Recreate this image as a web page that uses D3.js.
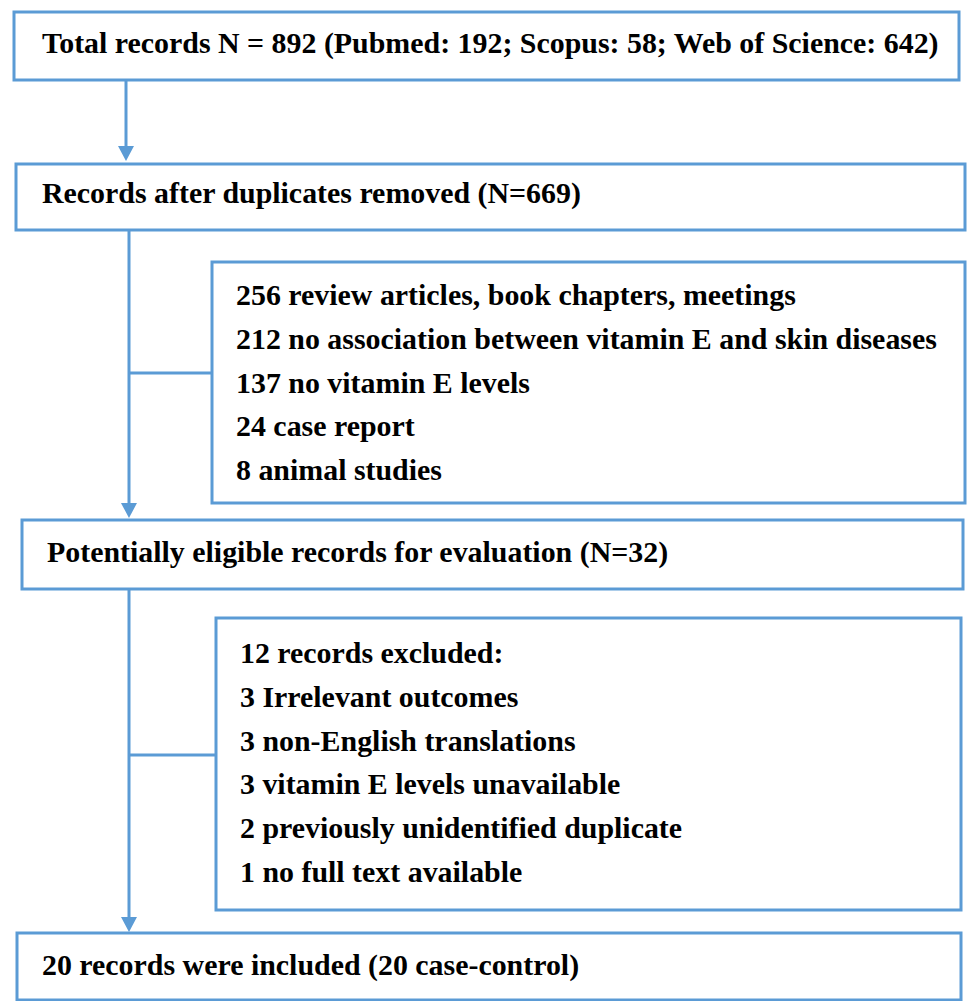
<!DOCTYPE html>
<html>
<head>
<meta charset="utf-8">
<script src="https://cdn.jsdelivr.net/npm/d3@7"></script>
<style>
  html, body { margin: 0; padding: 0; background: #fff; }
  svg { display: block; }
  text { font-family: "Liberation Serif", "Times New Roman", serif; font-weight: bold; fill: #000; }
</style>
</head>
<body>
<div id="chart"></div>
<script>
// flow steps (main column)
const mainSteps = [
  "Total records N = 892 (Pubmed: 192; Scopus: 58; Web of Science: 642)",
  "Records after duplicates removed (N=669)",
  "Potentially eligible records for evaluation (N=32)",
  "20 records were included (20 case-control)"
];

// exclusion boxes
const exclusion1 = [
  "256 review articles, book chapters, meetings",
  "212 no association between vitamin E and skin diseases",
  "137 no vitamin E levels",
  "24 case report",
  "8 animal studies"
];
const exclusion2 = [
  "12 records excluded:",
  "3 Irrelevant outcomes",
  "3 non-English translations",
  "3 vitamin E levels unavailable",
  "2 previously unidentified duplicate",
  "1 no full text available"
];

// layout (pixels)
const W = 968, H = 1001;
const blue = "#5b9bd5";
const fontSize = 29.9;
const lineGap = 43.8;

const mainLayout = [
  { x: 14, y: 12, w: 945, h: 68, tx: 42, ty: 53 },
  { x: 16, y: 164, w: 949, h: 66, tx: 42, ty: 203 },
  { x: 22, y: 520, w: 941, h: 69, tx: 47, ty: 562 },
  { x: 17, y: 933, w: 944, h: 67, tx: 42, ty: 975 }
];
const sideLayout = [
  { x: 212, y: 262, w: 753, h: 241, tx: 236, ty: 305, lines: exclusion1, branchY: 373 },
  { x: 216, y: 618, w: 745, h: 292, tx: 240, ty: 663, lines: exclusion2, branchY: 755 }
];
const arrows = [
  { x: 126, y0: 80, y1: 161 },
  { x: 129, y0: 230, y1: 518 },
  { x: 129, y0: 589, y1: 932 }
];

const svg = d3.select("#chart").append("svg")
  .attr("width", W)
  .attr("height", H);

// main boxes
const mainG = svg.selectAll("g.main")
  .data(mainSteps.map((t, i) => ({ text: t, ...mainLayout[i] })))
  .join("g")
  .attr("class", "main");

mainG.append("rect")
  .attr("x", d => d.x).attr("y", d => d.y)
  .attr("width", d => d.w).attr("height", d => d.h)
  .attr("fill", "#fff")
  .attr("stroke", blue).attr("stroke-width", 3);

mainG.append("text")
  .attr("x", d => d.tx).attr("y", d => d.ty)
  .attr("font-size", fontSize)
  .text(d => d.text);

// side boxes
const sideG = svg.selectAll("g.side")
  .data(sideLayout)
  .join("g")
  .attr("class", "side");

sideG.append("rect")
  .attr("x", d => d.x).attr("y", d => d.y)
  .attr("width", d => d.w).attr("height", d => d.h)
  .attr("fill", "#fff")
  .attr("stroke", blue).attr("stroke-width", 3);

sideG.each(function(d) {
  d3.select(this).selectAll("text")
    .data(d.lines)
    .join("text")
    .attr("x", d.tx)
    .attr("y", (t, i) => d.ty + i * lineGap)
    .attr("font-size", fontSize)
    .text(t => t);
});

// branches from main line to side boxes
svg.selectAll("line.branch")
  .data(sideLayout)
  .join("line")
  .attr("class", "branch")
  .attr("x1", 129).attr("x2", d => d.x)
  .attr("y1", d => d.branchY).attr("y2", d => d.branchY)
  .attr("stroke", blue).attr("stroke-width", 3);

// arrows
const headW = 8, headH = 15;
svg.selectAll("line.arrow")
  .data(arrows)
  .join("line")
  .attr("class", "arrow")
  .attr("x1", d => d.x).attr("x2", d => d.x)
  .attr("y1", d => d.y0).attr("y2", d => d.y1 - headH + 2)
  .attr("stroke", blue).attr("stroke-width", 3);

svg.selectAll("path.head")
  .data(arrows)
  .join("path")
  .attr("class", "head")
  .attr("d", d => `M${d.x - headW},${d.y1 - headH} L${d.x + headW},${d.y1 - headH} L${d.x},${d.y1} Z`)
  .attr("fill", blue);
</script>
</body>
</html>
